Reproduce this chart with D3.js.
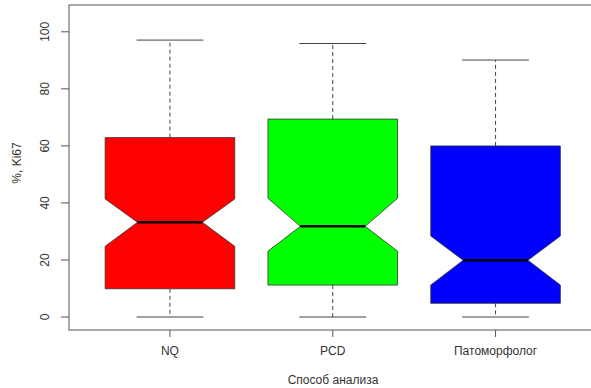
<!DOCTYPE html>
<html>
<head>
<meta charset="utf-8">
<script src="https://cdn.jsdelivr.net/npm/d3@7"></script>
<style>
  html, body { margin: 0; padding: 0; background: #fff; }
  svg { display: block; font-family: "Liberation Sans", Arial, sans-serif; }
</style>
</head>
<body>
<svg id="chart" width="591" height="388"></svg>
<script>
const categories = ["NQ", "PCD", "Патоморфолог"];
const colors = ["#ff0000", "#00ff00", "#0000ff"];
const whiskerLow = [0, 0, 0];
const q1 = [9.9, 11.2, 4.8];
const notchLow = [24.8, 23.1, 11.2];
const median = [33.2, 31.8, 19.9];
const notchHigh = [41.4, 41.6, 28.4];
const q3 = [62.9, 69.4, 60.0];
const whiskerHigh = [97.1, 95.9, 90.1];
const yTicks = [0, 20, 40, 60, 80, 100];
const xTitle = "Способ анализа";
const yTitle = "%, Ki67";

const svg = d3.select("#chart");
const pLeft = 69, pRight = 596.5, pTop = 5, pBottom = 330;

const x = d3.scaleLinear().domain([0.38, 3.62]).range([pLeft, pRight]);
const y = d3.scaleLinear().domain([-4.55, 109.4]).range([pBottom, pTop]);
const boxHalf = 0.398;   // in category units
const capHalf = 0.205;

const axisColor = "#555";

// plot frame
svg.append("rect")
  .attr("x", pLeft).attr("y", pTop)
  .attr("width", pRight - pLeft).attr("height", pBottom - pTop)
  .attr("fill", "none").attr("stroke", axisColor).attr("stroke-width", 1);

categories.forEach((c, i) => {
  const cx = i + 1;
  const g = svg.append("g");
  // whiskers
  g.append("line")
    .attr("x1", x(cx)).attr("x2", x(cx))
    .attr("y1", y(q3[i])).attr("y2", y(whiskerHigh[i]))
    .attr("stroke", "#444").attr("stroke-dasharray", "4,3").attr("stroke-width", 1);
  g.append("line")
    .attr("x1", x(cx)).attr("x2", x(cx))
    .attr("y1", y(q1[i])).attr("y2", y(whiskerLow[i]))
    .attr("stroke", "#444").attr("stroke-dasharray", "4,3").attr("stroke-width", 1);
  [whiskerHigh[i], whiskerLow[i]].forEach(v => {
    g.append("line")
      .attr("x1", x(cx - capHalf)).attr("x2", x(cx + capHalf))
      .attr("y1", y(v)).attr("y2", y(v))
      .attr("stroke", "#444").attr("stroke-width", 1);
  });
  // notched box
  const nh = boxHalf / 2;
  const pts = [
    [cx - boxHalf, q1[i]],
    [cx - boxHalf, notchLow[i]],
    [cx - nh, median[i]],
    [cx - boxHalf, notchHigh[i]],
    [cx - boxHalf, q3[i]],
    [cx + boxHalf, q3[i]],
    [cx + boxHalf, notchHigh[i]],
    [cx + nh, median[i]],
    [cx + boxHalf, notchLow[i]],
    [cx + boxHalf, q1[i]]
  ];
  g.append("path")
    .attr("d", d3.line().x(d => x(d[0])).y(d => y(d[1]))(pts) + "Z")
    .attr("fill", colors[i]).attr("stroke", "#333").attr("stroke-width", 0.8);
  // median
  g.append("line")
    .attr("x1", x(cx - nh)).attr("x2", x(cx + nh))
    .attr("y1", y(median[i])).attr("y2", y(median[i]))
    .attr("stroke", "#000").attr("stroke-width", 2.5);
});

// y axis
const yAxis = svg.append("g");
yTicks.forEach(t => {
  yAxis.append("line")
    .attr("x1", pLeft - 8).attr("x2", pLeft)
    .attr("y1", y(t)).attr("y2", y(t))
    .attr("stroke", axisColor);
  yAxis.append("text")
    .attr("transform", `translate(${49},${y(t)}) rotate(-90)`)
    .attr("text-anchor", "middle")
    .attr("font-size", 12).attr("fill", "#333")
    .text(t);
});

// x axis ticks
categories.forEach((c, i) => {
  svg.append("line")
    .attr("x1", x(i + 1)).attr("x2", x(i + 1))
    .attr("y1", pBottom).attr("y2", pBottom + 7)
    .attr("stroke", axisColor);
  svg.append("text")
    .attr("x", x(i + 1)).attr("y", 355)
    .attr("text-anchor", "middle")
    .attr("font-size", 12).attr("fill", "#333")
    .text(c);
});

svg.append("text")
  .attr("x", 333).attr("y", 384)
  .attr("text-anchor", "middle")
  .attr("font-size", 12).attr("fill", "#333")
  .text(xTitle);

svg.append("text")
  .attr("transform", `translate(${21},${163}) rotate(-90)`)
  .attr("text-anchor", "middle")
  .attr("font-size", 12).attr("fill", "#333")
  .text(yTitle);
</script>
</body>
</html>
